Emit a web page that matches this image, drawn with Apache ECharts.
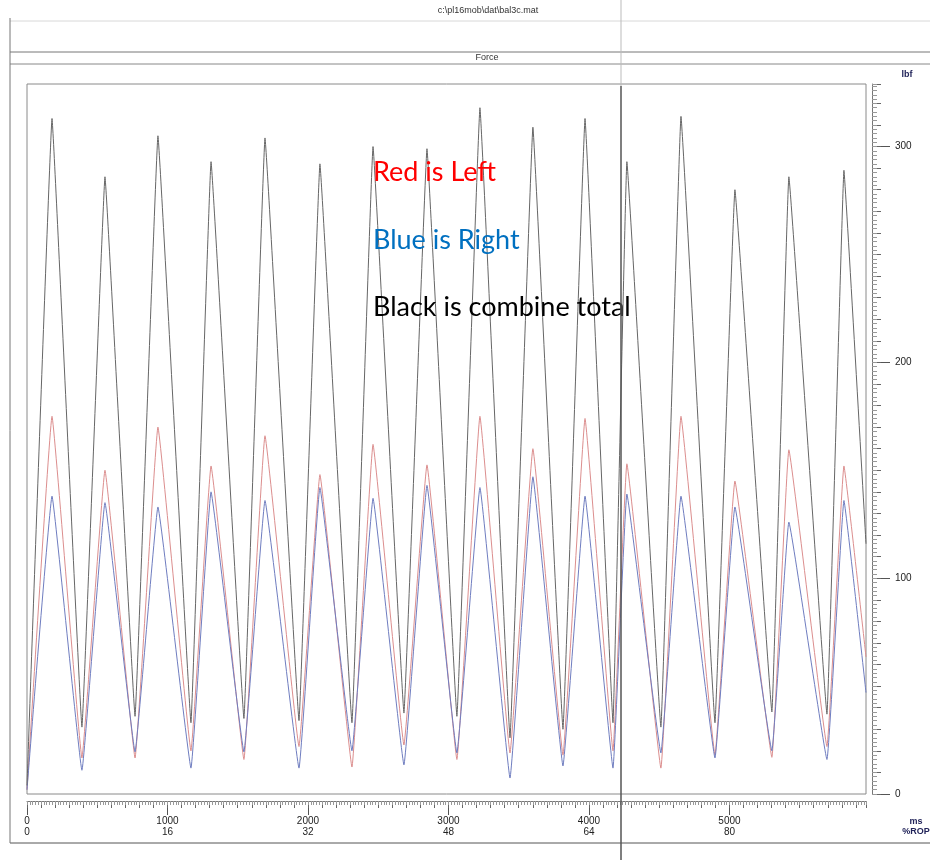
<!DOCTYPE html>
<html>
<head>
<meta charset="utf-8">
<title>Force</title>
<script src="https://cdn.jsdelivr.net/npm/echarts@6/dist/echarts.min.js"></script>
<style>
    html, body { margin: 0; padding: 0; background: #fff; }
    #chart { width: 930px; height: 860px; }
</style>
</head>
<body>
<div id="chart"></div>
<script>
// time of each peak / trough (ms)
var peakMs   = [178, 555, 932, 1310, 1694, 2085, 2463, 2847, 3224, 3601, 3972, 4270, 4655, 5039, 5423, 5815];
var troughMs = [391, 769, 1167, 1544, 1936, 2313, 2683, 3060, 3438, 3815, 4171, 4512, 4897, 5302, 5694];
var startMs = 0;
var endMs = 5972;

// combined total (black)
var blackPeak   = [313, 286, 305, 293, 304, 292, 300, 299, 318, 309, 313, 293, 314, 280, 286, 289];
var blackTrough = [31, 36, 33, 35, 34, 33, 37.5, 36, 26, 30, 33, 31, 33, 38, 37];
var blackStart = 4, blackEnd = 116;

// left (red)
var redPeak   = [175, 150, 170, 152, 166, 148, 162, 152.5, 175, 160, 174, 153, 175, 145, 159.5, 152];
var redTrough = [16.7, 16.7, 20, 16, 22, 12.5, 22.7, 16, 19, 18, 20, 12, 18, 17, 22];
var redStart = 2, redEnd = 63.5;

// right (blue)
var bluePeak   = [138, 135, 133, 140, 136, 142, 137, 143, 142, 147, 138, 139, 138, 133, 126, 136];
var blueTrough = [11, 19.5, 12, 19.5, 12, 20, 13.5, 19, 7.4, 13, 12, 19, 16.7, 20, 16];
var blueStart = 2, blueEnd = 47;

// axis ticks
var msTicks  = [0, 1000, 2000, 3000, 4000, 5000];
var ropTicks = [0, 16, 32, 48, 64, 80];
var lbfTicks = [0, 100, 200, 300];

function buildLine(start, peaks, troughs, end) {
    var pts = [[startMs, start]];
    for (var i = 0; i < peaks.length; i++) {
        pts.push([peakMs[i], peaks[i]]);
        if (i < troughs.length) pts.push([troughMs[i], troughs[i]]);
    }
    pts.push([endMs, end]);
    return pts;
}

var myChart = echarts.init(document.getElementById('chart'));

var FONT = 'Liberation Sans';
var NAVY = '#22245a';

function hline(x1, x2, y, color, w) {
    return { type: 'line', shape: { x1: x1, y1: y, x2: x2, y2: y }, style: { stroke: color, lineWidth: w || 1 }, silent: true };
}
function vline(x, y1, y2, color, w) {
    return { type: 'line', shape: { x1: x, y1: y1, x2: x, y2: y2 }, style: { stroke: color, lineWidth: w || 1 }, silent: true, z: 60 };
}
function label(x, y, txt, opts) {
    opts = opts || {};
    return {
        type: 'text', x: x, y: y, silent: true, z: 50,
        style: {
            text: txt,
            font: opts.font || ('10px ' + FONT),
            fill: opts.color || '#222',
            textAlign: opts.align || 'center',
            textVerticalAlign: 'middle'
        }
    };
}

// ruler axis helper (same scale, different tick length)
function xRuler(interval, len, color) {
    return {
        type: 'value', min: 0, max: endMs, position: 'bottom', offset: 7, interval: interval,
        axisLine: { show: false, onZero: false }, splitLine: { show: false }, axisLabel: { show: false },
        axisTick: { show: true, length: len, lineStyle: { color: color } }
    };
}
function yRuler(interval, len, color) {
    return {
        type: 'value', min: 0, max: 329, position: 'right', offset: 6, interval: interval,
        axisLine: { show: false, onZero: false }, splitLine: { show: false }, axisLabel: { show: false },
        axisTick: { show: true, length: len, lineStyle: { color: color } }
    };
}

var option = {
    backgroundColor: '#fff',
    animation: false,
    grid: {
        left: 27, right: 64, top: 84, bottom: 66,
        show: true, borderColor: '#8a8a8a', borderWidth: 1
    },
    xAxis: [{
        type: 'value', min: 0, max: endMs, position: 'bottom', offset: 7,
        axisLine: { show: true, onZero: false, lineStyle: { color: '#777' } },
        splitLine: { show: false },
        axisTick: { show: true, length: 14, customValues: msTicks, lineStyle: { color: '#555' } },
        axisLabel: {
            customValues: msTicks, margin: 15, color: '#222', fontSize: 10, fontFamily: FONT, lineHeight: 11,
            formatter: function (v) {
                var i = msTicks.indexOf(v);
                return v + '\n' + (i >= 0 ? ropTicks[i] : '');
            }
        }
    },
        xRuler(100, 7, '#666'),
        xRuler(20, 4, '#999')
    ],
    yAxis: [{
        type: 'value', min: 0, max: 329, position: 'right', offset: 6,
        axisLine: { show: true, onZero: false, lineStyle: { color: '#777' } },
        splitLine: { show: false },
        axisTick: { show: true, length: 18, customValues: lbfTicks, lineStyle: { color: '#555' } },
        axisLabel: { customValues: lbfTicks, margin: 23, color: '#222', fontSize: 10, fontFamily: FONT }
    },
        yRuler(10, 9, '#666'),
        yRuler(2, 5, '#999')
    ],
    series: [{
        name: 'Left', type: 'line', data: buildLine(redStart, redPeak, redTrough, redEnd),
        showSymbol: false, smooth: 0.07, lineStyle: { color: '#dc8e8e', width: 1 }
    }, {
        name: 'Right', type: 'line', data: buildLine(blueStart, bluePeak, blueTrough, blueEnd),
        showSymbol: false, smooth: 0.07, lineStyle: { color: '#6f7dc0', width: 1 }
    }, {
        name: 'Total', type: 'line', data: buildLine(blackStart, blackPeak, blackTrough, blackEnd),
        showSymbol: false, smooth: 0.05, lineStyle: { color: '#666', width: 1 }
    }],
    graphic: [
        hline(10, 930, 21, '#d8d8d8'),
        hline(10, 930, 52, '#777'),
        hline(10, 930, 64, '#888'),
        hline(10, 930, 843, '#555'),
        vline(10, 18, 843, '#777'),
        label(488, 11, 'c:\\pl16mob\\dat\\bal3c.mat', { font: '9px ' + FONT, color: '#333' }),
        label(487, 58, 'Force', { font: '9px ' + FONT, color: '#333' }),
        label(907, 75, 'lbf', { font: 'bold 9px ' + FONT, color: NAVY }),
        label(916, 822, 'ms', { font: 'bold 9px ' + FONT, color: NAVY }),
        label(916, 832, '%ROP', { font: 'bold 9px ' + FONT, color: NAVY }),
        label(373, 172, 'Red is Left', { font: '27px Lato', color: '#ff0000', align: 'left' }),
        label(373, 240, 'Blue is Right', { font: '27px Lato', color: '#0070c0', align: 'left' }),
        label(373, 307, 'Black is combine total', { font: '27px Lato', color: '#000', align: 'left' }),
        // page fold of the scan
        vline(621, 0, 86, '#bbb', 1),
        vline(621, 86, 860, '#555', 1.5)
    ]
};

myChart.setOption(option);
</script>
</body>
</html>
